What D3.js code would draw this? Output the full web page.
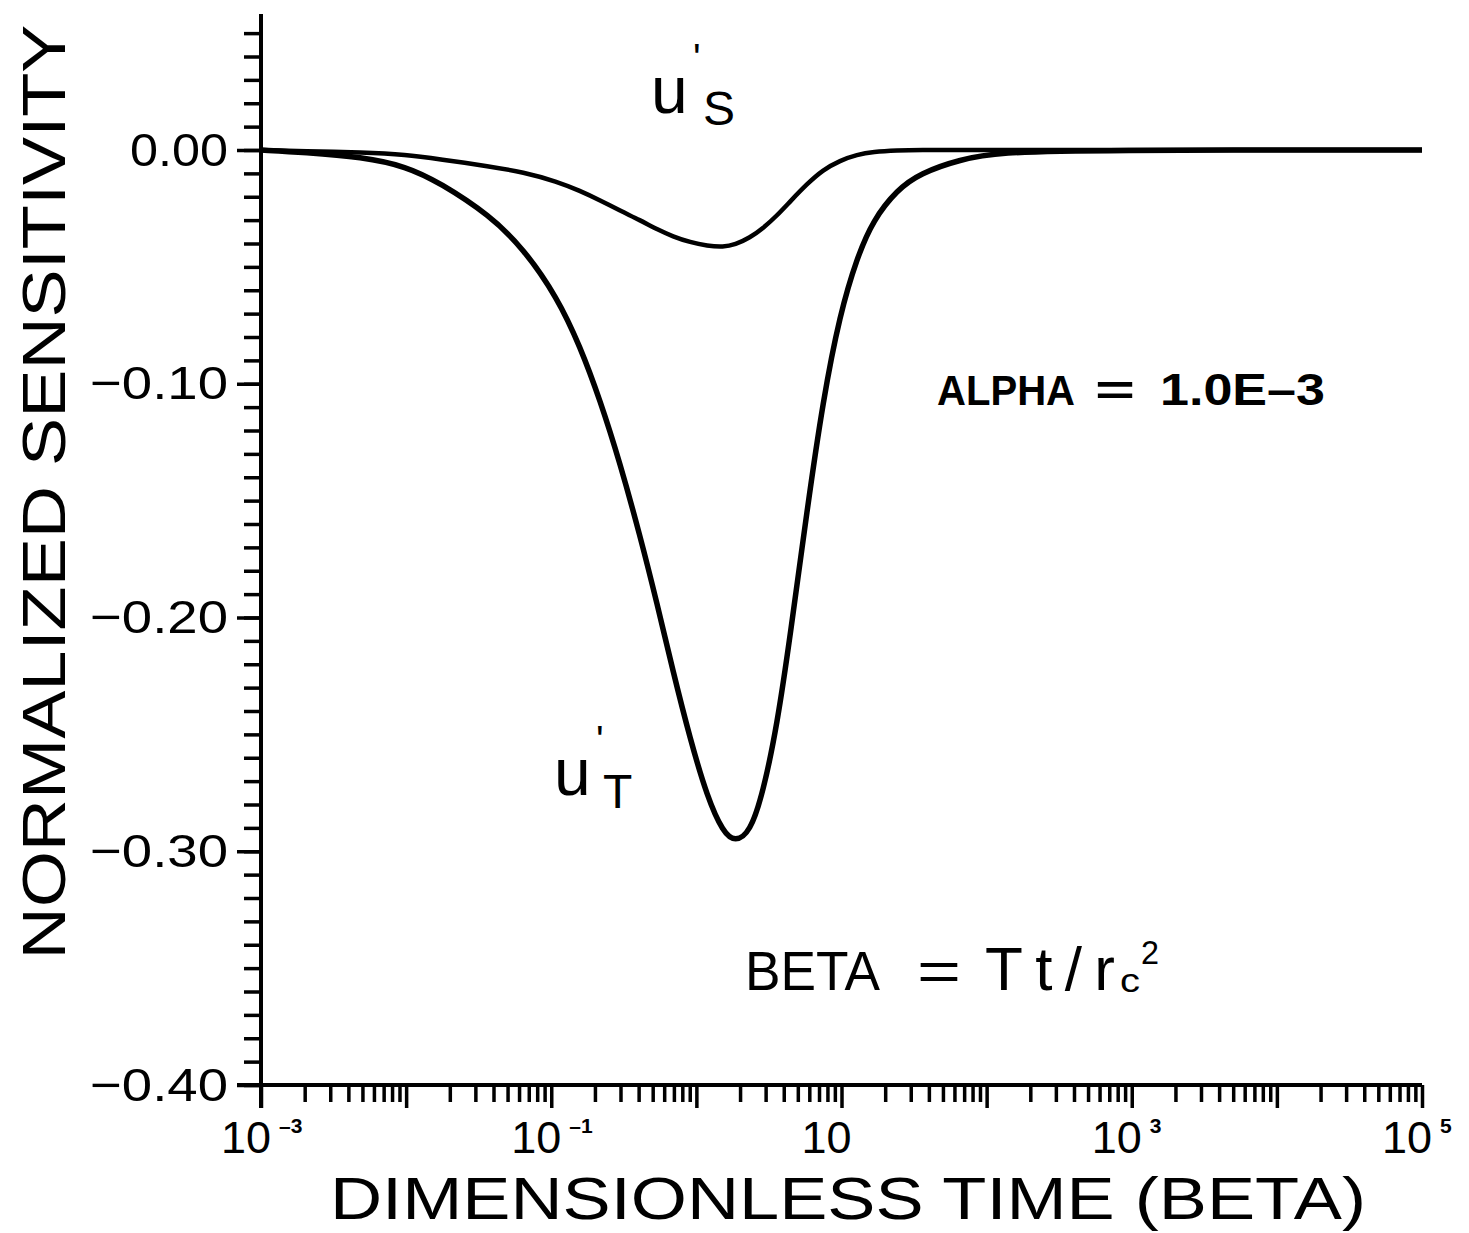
<!DOCTYPE html>
<meta charset="utf-8" />
<style>
  body {
    margin: 0;
    background: #fff;
    font-family: "Liberation Sans", Arial, "Helvetica Neue";
  }
  .axis text {
    font-family: "Liberation Sans", Arial;
    fill: #000;
  }
</style>
<body>
  <div class="container"></div>

  <script src="https://d3js.org/d3.v7.min.js"></script>
  <script>
    // dimensionless time (beta) and the two sensitivity curves
    let beta = [
      0.001, 0.002, 0.005, 0.01, 0.0171, 0.0378, 0.064, 0.11, 0.158, 0.217,
      0.298, 0.409, 0.536, 0.69, 0.906, 1.19, 1.53, 1.85, 2.34, 2.88, 3.6,
      4.43, 5.79, 7.46, 9.77, 12.8, 16.5, 24.2, 34.8, 65.6, 124, 500, 100000,
    ];
    let uT = [
      0, -0.001, -0.003, -0.007, -0.014, -0.028, -0.042, -0.063, -0.084,
      -0.107, -0.134, -0.165, -0.194, -0.223, -0.252, -0.277, -0.292, -0.296,
      -0.292, -0.275, -0.246, -0.208, -0.154, -0.107, -0.07, -0.046, -0.03,
      -0.017, -0.01, -0.004, -0.001, 0, 0,
    ];
    let uS = [
      0, -0.0005, -0.001, -0.002, -0.004, -0.007, -0.0095, -0.0135, -0.0175,
      -0.0215, -0.026, -0.03, -0.034, -0.037, -0.0395, -0.041, -0.0415, -0.0405,
      -0.0375, -0.0335, -0.028, -0.022, -0.0145, -0.0085, -0.0045, -0.002,
      -0.0008, -0.0002, 0, 0, 0, 0, 0,
    ];

    let yMajor = [-0.4, -0.3, -0.2, -0.1, 0];
    let yLabels = ["\u22120.40", "\u22120.30", "\u22120.20", "\u22120.10", "0.00"];
    let xDecades = [-3, -1, 1, 3, 5];
    let xExponents = ["-3", "-1", "", "3", "5"];

    var width = 1469,
      height = 1233;

    var svg = d3
      .select(".container")
      .append("svg")
      .attr("width", width)
      .attr("height", height);

    let x = d3.scaleLog().domain([1e-3, 1e5]).range([261, 1422]);
    let y = d3.scaleLinear().domain([-0.4, 0]).range([1085, 150]);

    let yMinor = d3.range(-40, 6).map((d) => d / 100);
    let xMinor = [];
    for (let e = -3; e < 5; e++) {
      for (let m = 2; m < 10; m++) xMinor.push(m * Math.pow(10, e));
    }

    // y axis: minor ticks every 0.01, labelled ticks every 0.10
    svg
      .append("g")
      .attr("class", "axis")
      .attr("transform", "translate(" + x(1e-3) + ",0)")
      .call(d3.axisLeft(y).tickValues(yMinor).tickSize(17).tickFormat(""))
      .call((g) => g.select(".domain").remove());

    svg
      .append("g")
      .attr("class", "axis")
      .attr("transform", "translate(" + x(1e-3) + ",0)")
      .call(
        d3
          .axisLeft(y)
          .tickValues(yMajor)
          .tickSize(24)
          .tickPadding(9)
          .tickFormat((d, i) => yLabels[i])
      )
      .call((g) => g.select(".domain").remove())
      .call((g) =>
        g
          .selectAll("text")
          .attr("font-size", 47)
          .attr("textLength", (d) => (d === 0 ? 98 : 138))
          .attr("lengthAdjust", "spacingAndGlyphs")
      );

    // x axis: log ticks
    svg
      .append("g")
      .attr("class", "axis")
      .attr("transform", "translate(0," + y(-0.4) + ")")
      .call(d3.axisBottom(x).tickValues(xMinor).tickSize(17).tickFormat(""))
      .call((g) => g.select(".domain").remove());

    svg
      .append("g")
      .attr("class", "axis")
      .attr("transform", "translate(0," + y(-0.4) + ")")
      .call(
        d3
          .axisBottom(x)
          .tickValues(d3.range(-3, 6).map((e) => Math.pow(10, e)))
          .tickSize(23)
          .tickFormat("")
      )
      .call((g) => g.select(".domain").remove());

    svg.selectAll(".axis line").attr("stroke", "#000").attr("stroke-width", 3.5);

    // axis lines
    svg
      .append("line")
      .attr("x1", x(1e-3))
      .attr("x2", x(1e-3))
      .attr("y1", 14)
      .attr("y2", y(-0.4) + 23)
      .attr("stroke", "#000")
      .attr("stroke-width", 4);
    svg
      .append("line")
      .attr("x1", x(1e-3) - 24)
      .attr("x2", x(1e5))
      .attr("y1", y(-0.4))
      .attr("y2", y(-0.4))
      .attr("stroke", "#000")
      .attr("stroke-width", 4);

    // decade labels 10 with exponent
    let xl = svg.append("g").attr("class", "axis");
    xDecades.forEach(function (e, i) {
      let px = x(Math.pow(10, e));
      xl.append("text")
        .attr("x", px - 15)
        .attr("y", 1153)
        .attr("text-anchor", "middle")
        .attr("font-size", 45)
        .text("10");
      if (xExponents[i]) {
        xl.append("text")
          .attr("x", px + 18)
          .attr("y", 1133)
          .attr("font-size", 21)
          .attr("font-weight", "bold")
          .text(xExponents[i].replace("-", "\u2013"));
      }
    });

    // curves
    let line = (vals) =>
      d3
        .line()
        .x((d, i) => x(beta[i]))
        .y((d) => y(d))
        .curve(d3.curveBasis)(vals);

    svg
      .append("path")
      .attr("d", line(uS))
      .attr("fill", "none")
      .attr("stroke", "#000")
      .attr("stroke-width", 4.5);
    svg
      .append("path")
      .attr("d", line(uT))
      .attr("fill", "none")
      .attr("stroke", "#000")
      .attr("stroke-width", 5.5);

    // axis titles
    svg
      .append("text")
      .attr("x", 330)
      .attr("y", 1219)
      .attr("font-size", 60)
      .attr("textLength", 1036)
      .attr("lengthAdjust", "spacingAndGlyphs")
      .text("DIMENSIONLESS  TIME  (BETA)");

    svg
      .append("text")
      .attr("transform", "translate(65,492) rotate(-90)")
      .attr("text-anchor", "middle")
      .attr("font-size", 62)
      .attr("textLength", 935)
      .attr("lengthAdjust", "spacingAndGlyphs")
      .text("NORMALIZED  SENSITIVITY");

    // curve labels
    function curveLabel(ux, uy, sub, sx, sy) {
      svg.append("text").attr("x", ux).attr("y", uy).attr("font-size", 66).text("u");
      svg
        .append("text")
        .attr("x", ux + 42)
        .attr("y", uy - 41)
        .attr("font-size", 40)
        .text("'");
      svg.append("text").attr("x", sx).attr("y", sy).attr("font-size", 48).text(sub);
    }
    curveLabel(651, 113, "S", 703, 125);
    curveLabel(554, 795, "T", 603, 808);

    // parameter notes
    function note(tx, ty, size, len, str, weight, adjust) {
      svg
        .append("text")
        .attr("x", tx)
        .attr("y", ty)
        .attr("font-size", size)
        .attr("font-weight", weight || "normal")
        .attr("textLength", len)
        .attr("lengthAdjust", adjust || "spacingAndGlyphs")
        .text(str);
    }
    note(937, 405, 42, 138, "ALPHA", "bold");
    note(1095, 405, 42, 40, "=", "bold");
    note(1160, 405, 44, 165, "1.0E\u20133", "bold");

    note(745, 990, 56, 135, "BETA");
    note(917, 990, 56, 44, "=");
    note(985, 990, 62, 130, "Tt/r", "normal", "spacing");
    note(1120, 992, 34, 20, "c");
    note(1141, 964, 34, 18, "2");
  </script>
</body>
